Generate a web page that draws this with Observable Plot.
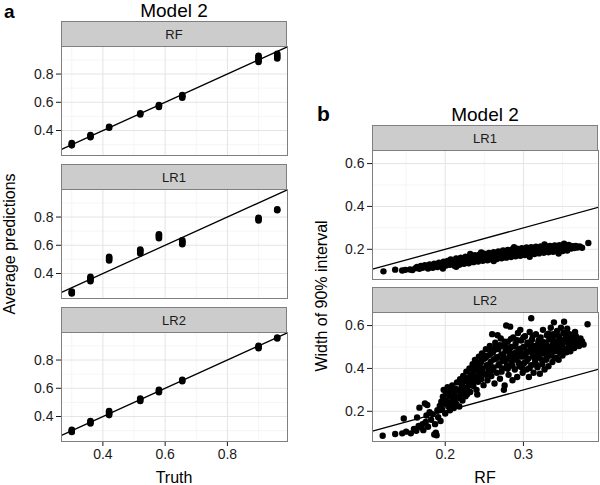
<!DOCTYPE html>
<html>
<head>
<meta charset="utf-8">
<script src="https://cdn.jsdelivr.net/npm/d3@7"></script>
<script src="https://cdn.jsdelivr.net/npm/@observablehq/plot@0.6"></script>
<style>
  html, body { margin: 0; padding: 0; background: #ffffff; }
  #chart { position: relative; width: 600px; height: 485px; overflow: hidden; background: #ffffff; }
  #chart svg { position: absolute; }
</style>
</head>
<body>
<div id="chart"></div>
<script>
// ---------- DATA ----------
// Panel a: true probabilities (x) and replicate average predictions (y) per model
const truth = [0.30, 0.36, 0.42, 0.52, 0.58, 0.655, 0.90, 0.96];
const rfAvg = [[0.295,0.303,0.312],[0.352,0.360,0.368],[0.420,0.426],[0.513,0.522],[0.566,0.575,0.581],[0.632,0.642,0.652],[0.886,0.897,0.908,0.920,0.930],[0.910,0.920,0.932,0.944]];
const lr1Avg = [[0.258,0.265,0.273],[0.346,0.356,0.366,0.376],[0.492,0.502,0.512,0.518],[0.542,0.553,0.564,0.570],[0.650,0.660,0.670,0.678],[0.608,0.617,0.627,0.635],[0.776,0.786,0.794],[0.848,0.854]];
const lr2Avg = [[0.290,0.298,0.306],[0.350,0.360,0.368],[0.410,0.420,0.430,0.438],[0.510,0.520,0.528],[0.572,0.580,0.590],[0.650,0.660],[0.884,0.893,0.900],[0.952,0.960]];
const panelAFacets = ["RF", "LR1", "LR2"];

// Panel b: width of 90% interval, RF (x) vs LR model (y)
const lr1Width = [[0.121,0.097],[0.136,0.105],[0.145,0.101],[0.149,0.104],[0.155,0.106],[0.158,0.103],
[0.162,0.112],[0.164,0.118],[0.167,0.109],[0.169,0.122],[0.171,0.114],[0.174,0.126],[0.176,0.117],[0.178,0.110],[0.180,0.129],[0.182,0.121],[0.184,0.114],[0.186,0.133],[0.188,0.124],[0.190,0.117],[0.192,0.137],[0.194,0.128],[0.196,0.120],[0.198,0.142],[0.199,0.132],[0.201,0.124],[0.203,0.146],[0.204,0.137],[0.206,0.128],[0.207,0.153],[0.209,0.142],[0.211,0.133],[0.212,0.123],[0.214,0.157],[0.215,0.146],[0.217,0.138],[0.218,0.128],[0.220,0.161],[0.221,0.151],[0.223,0.142],[0.224,0.132],[0.226,0.165],[0.227,0.155],[0.229,0.146],[0.230,0.135],[0.232,0.168],[0.233,0.158],[0.235,0.149],[0.236,0.140],[0.238,0.172],[0.239,0.161],[0.241,0.152],[0.242,0.143],[0.244,0.176],[0.245,0.164],[0.247,0.155],[0.248,0.146],[0.250,0.179],[0.251,0.168],[0.253,0.158],[0.254,0.149],[0.256,0.183],[0.257,0.171],[0.259,0.162],[0.260,0.152],[0.262,0.186],[0.263,0.175],[0.265,0.165],[0.266,0.155],[0.268,0.190],[0.269,0.178],[0.271,0.168],[0.272,0.158],[0.274,0.194],[0.275,0.181],[0.277,0.171],[0.278,0.161],[0.280,0.197],[0.281,0.185],[0.283,0.174],[0.284,0.164],[0.286,0.200],[0.287,0.188],[0.289,0.177],[0.290,0.167],[0.292,0.203],[0.293,0.191],[0.295,0.180],[0.296,0.170],[0.298,0.205],[0.299,0.194],[0.301,0.183],[0.302,0.173],[0.304,0.208],[0.305,0.196],[0.307,0.186],[0.308,0.176],[0.310,0.210],[0.311,0.199],[0.313,0.188],[0.314,0.178],[0.316,0.212],[0.317,0.201],[0.319,0.191],[0.320,0.181],[0.322,0.213],[0.323,0.203],[0.325,0.193],[0.326,0.184],[0.328,0.215],[0.329,0.205],[0.331,0.195],[0.332,0.186],[0.334,0.216],[0.335,0.207],[0.337,0.197],[0.338,0.188],[0.340,0.218],[0.341,0.208],[0.343,0.199],[0.344,0.190],[0.346,0.219],[0.347,0.210],[0.349,0.201],[0.350,0.192],[0.352,0.219],[0.353,0.211],[0.355,0.203],[0.356,0.194],[0.358,0.220],[0.359,0.212],[0.361,0.204],[0.363,0.214],[0.365,0.206],[0.367,0.216],[0.369,0.208],[0.372,0.213],[0.375,0.207],[0.383,0.229],
[0.232,0.178],[0.262,0.145],[0.288,0.210],[0.308,0.165],[0.327,0.222],[0.345,0.180],[0.352,0.226],[0.246,0.185],[0.214,0.118],[0.197,0.110]];

const lr2Width = [[0.120,0.086],[0.136,0.094],[0.145,0.097],[0.147,0.166],[0.150,0.105],[0.156,0.097],[0.160,0.118],[0.163,0.109],[0.164,0.171],[0.166,0.132],[0.167,0.217],[0.169,0.125],[0.171,0.140],[0.172,0.112],[0.174,0.236],[0.175,0.150],[0.176,0.180],[0.177,0.229],[0.178,0.128],[0.180,0.196],[0.182,0.160],[0.184,0.186],[0.186,0.092],[0.187,0.140],[0.188,0.100],[0.189,0.088],[0.190,0.205],[0.191,0.172],[0.193,0.225],[0.194,0.155],[0.195,0.245],
[0.196,0.210],[0.197,0.268],[0.198,0.300],[0.199,0.235],[0.200,0.190],[0.201,0.285],[0.202,0.250],[0.203,0.312],[0.204,0.222],[0.205,0.272],[0.206,0.205],[0.207,0.295],[0.208,0.240],[0.209,0.320],[0.210,0.260],[0.211,0.215],[0.212,0.282],[0.213,0.305],[0.214,0.235],[0.215,0.335],[0.216,0.265],[0.217,0.300],[0.218,0.222],[0.219,0.350],[0.220,0.280],
[0.221,0.318],[0.222,0.250],[0.223,0.365],[0.224,0.295],[0.225,0.340],[0.226,0.270],[0.227,0.385],[0.228,0.310],[0.228,0.280],[0.229,0.355],[0.230,0.330],[0.231,0.400],[0.232,0.290],[0.233,0.372],[0.234,0.345],[0.235,0.420],[0.236,0.318],[0.237,0.390],[0.238,0.440],[0.239,0.362],[0.240,0.300],[0.241,0.278],[0.241,0.410],[0.242,0.338],[0.243,0.455],[0.244,0.380],[0.245,0.425],[0.246,0.350],[0.247,0.470],[0.248,0.400],[0.249,0.322],[0.250,0.445],[0.251,0.372],[0.252,0.490],[0.253,0.415],[0.254,0.345],[0.255,0.460],[0.256,0.392],
[0.257,0.505],[0.258,0.430],[0.259,0.365],[0.260,0.560],[0.261,0.475],[0.262,0.405],[0.263,0.330],[0.264,0.520],[0.265,0.445],[0.266,0.380],[0.267,0.555],[0.268,0.490],[0.269,0.420],[0.270,0.352],[0.271,0.540],[0.272,0.465],[0.273,0.400],[0.274,0.505],[0.275,0.300],[0.275,0.435],[0.276,0.320],[0.277,0.480],[0.278,0.600],[0.279,0.415],[0.280,0.525],[0.281,0.370],[0.282,0.455],[0.283,0.595],[0.284,0.500],[0.285,0.430],[0.286,0.345],[0.287,0.545],[0.288,0.470],[0.289,0.395],[0.290,0.515],[0.291,0.440],[0.292,0.360],[0.293,0.565],[0.294,0.485],[0.295,0.410],[0.296,0.580],[0.297,0.530],[0.298,0.455],[0.299,0.380],[0.300,0.500],
[0.301,0.425],[0.302,0.550],[0.303,0.470],[0.304,0.395],[0.305,0.520],[0.306,0.445],[0.307,0.360],[0.308,0.570],[0.309,0.490],[0.310,0.634],[0.310,0.415],[0.311,0.535],[0.312,0.460],[0.313,0.380],[0.314,0.505],[0.315,0.430],[0.316,0.560],[0.317,0.480],[0.318,0.405],[0.319,0.525],[0.320,0.450],[0.321,0.375],[0.322,0.545],[0.323,0.495],[0.324,0.420],[0.325,0.580],[0.326,0.470],[0.327,0.395],[0.328,0.515],[0.329,0.440],[0.330,0.555],[0.331,0.485],[0.332,0.410],[0.333,0.535],[0.334,0.460],[0.335,0.590],[0.336,0.505],[0.337,0.430],[0.338,0.560],[0.339,0.615],[0.340,0.480],
[0.341,0.525],[0.342,0.450],[0.343,0.575],[0.344,0.500],[0.345,0.440],[0.346,0.545],[0.347,0.470],[0.348,0.590],[0.349,0.515],[0.350,0.460],[0.351,0.565],[0.352,0.618],[0.353,0.490],[0.354,0.540],[0.355,0.475],[0.356,0.585],[0.357,0.525],[0.358,0.500],[0.359,0.560],[0.360,0.480],[0.362,0.545],[0.364,0.510],[0.365,0.495],[0.366,0.570],[0.368,0.530],[0.369,0.518],[0.371,0.505],[0.373,0.540],[0.375,0.526],[0.377,0.512],[0.382,0.606],
[0.232,0.352],[0.236,0.372],[0.239,0.395],[0.243,0.408],[0.246,0.432],[0.249,0.378],[0.252,0.452],[0.255,0.405],[0.258,0.468],[0.261,0.392],[0.263,0.487],[0.266,0.452],[0.268,0.415],[0.270,0.508],[0.272,0.385],[0.274,0.462],[0.276,0.525],[0.278,0.442],[0.280,0.398],[0.282,0.488],[0.284,0.538],[0.286,0.412],[0.288,0.445],[0.290,0.472],[0.292,0.532],[0.294,0.425],[0.296,0.492],[0.298,0.405],[0.300,0.545],[0.302,0.462],[0.304,0.435],[0.306,0.512],[0.308,0.402],[0.310,0.478],[0.312,0.552],[0.314,0.448],[0.316,0.418],[0.318,0.502],[0.320,0.535],[0.322,0.468],[0.324,0.438],[0.326,0.522],[0.328,0.488],[0.330,0.452],[0.332,0.562],[0.334,0.498],[0.336,0.472],[0.338,0.528],[0.340,0.448],[0.342,0.512],[0.344,0.552],[0.346,0.488],[0.348,0.532],[0.350,0.505],[0.352,0.478],[0.354,0.562],[0.356,0.522],[0.358,0.548],[0.361,0.508],[0.363,0.532],[0.367,0.552],[0.370,0.528],
[0.205,0.238],[0.208,0.275],[0.212,0.252],[0.215,0.298],[0.218,0.262],[0.222,0.332],[0.225,0.305],[0.228,0.348],[0.231,0.322],[0.234,0.398],[0.237,0.342],[0.240,0.428],[0.243,0.362],[0.246,0.398],[0.249,0.462],[0.253,0.372],[0.257,0.418],[0.259,0.482],[0.262,0.442],[0.265,0.505],[0.269,0.455],[0.273,0.435],[0.277,0.505],[0.281,0.482],[0.285,0.462],[0.289,0.502],[0.293,0.455],[0.297,0.472],[0.301,0.498],[0.305,0.478],[0.309,0.522],[0.313,0.498],[0.317,0.455],[0.321,0.508],[0.325,0.475],[0.329,0.512],[0.333,0.478],[0.337,0.545],[0.341,0.485]];
const panelBFacets = ["LR1", "LR2"];

// axis ticks
const aTicks = [0.4, 0.6, 0.8];
const aMinor = [0.3, 0.5, 0.7, 0.9];
const bXTicks = [0.2, 0.3];
const bXMinor = [0.15, 0.25, 0.35];
const bYTicks = [0.2, 0.4, 0.6];
const bYMinor = [0.1, 0.3, 0.5];

// ---------- BUILD ----------
const FONT = "'Liberation Sans', Arial, Helvetica, sans-serif";
const root = document.getElementById("chart");

function rowsFrom(avg) {
  const out = [];
  truth.forEach((t, i) => avg[i].forEach(v => out.push({x: t, y: v})));
  return out;
}
function rowsPairs(p) { return p.map(([x, y]) => ({x, y})); }

function facet(o) {
  const ml = 45, mr = 3, mt = 2, mb = o.showX ? 30 : 3;
  const lo = Math.max(o.xDomain[0], o.yDomain[0]);
  const hi = Math.min(o.xDomain[1], o.yDomain[1]);
  const svg = Plot.plot({
    width: ml + o.w + mr, height: mt + o.h + mb,
    marginLeft: ml, marginRight: mr, marginTop: mt, marginBottom: mb,
    style: {background: "transparent", fontFamily: FONT, fontSize: "14px", color: "#1a1a1a", overflow: "visible"},
    x: {domain: o.xDomain, ticks: o.xMajor, tickFormat: d => d.toFixed(1), tickSize: 5, tickPadding: 3, label: null, axis: o.showX ? "bottom" : null},
    y: {domain: o.yDomain, ticks: o.yMajor, tickFormat: d => d.toFixed(1), tickSize: 5, tickPadding: 3, label: null},
    marks: [
      Plot.ruleX(o.xMinor, {stroke: "#f3f3f3", strokeWidth: 0.8}),
      Plot.ruleY(o.yMinor, {stroke: "#f3f3f3", strokeWidth: 0.8}),
      Plot.ruleX(o.xMajor, {stroke: "#e4e4e4", strokeWidth: 1}),
      Plot.ruleY(o.yMajor, {stroke: "#e4e4e4", strokeWidth: 1}),
      Plot.line([lo, hi], {x: d => d, y: d => d, stroke: "#000", strokeWidth: 1.3, clip: true}),
      Plot.dot(o.rows, {x: "x", y: "y", r: o.r, fill: "#000", stroke: "none"}),
      Plot.frame({stroke: "#7f7f7f", strokeWidth: 1})
    ]
  });
  svg.style.left = (o.left - ml) + "px";
  svg.style.top = (o.top - mt) + "px";
  root.appendChild(svg);
}

// background svg for strips and texts
const bg = d3.select(root).append("svg")
  .attr("width", 600).attr("height", 485)
  .style("left", "0px").style("top", "0px")
  .attr("font-family", FONT);

function strip(x, y, w, h, label) {
  bg.append("rect").attr("x", x + 0.5).attr("y", y + 0.5).attr("width", w - 1).attr("height", h)
    .attr("fill", "#cccccc").attr("stroke", "#7f7f7f").attr("stroke-width", 1);
  bg.append("text").attr("x", x + w / 2).attr("y", y + h / 2 + 5)
    .attr("text-anchor", "middle").attr("font-size", 13).attr("fill", "#1a1a1a").text(label);
}
function txt(x, y, s, size, opts = {}) {
  const t = bg.append("text").attr("x", x).attr("y", y).attr("font-size", size)
    .attr("text-anchor", opts.anchor || "middle").attr("fill", opts.fill || "#000").text(s);
  if (opts.bold) t.attr("font-weight", "bold");
  if (opts.rotate) t.attr("transform", `rotate(-90 ${x} ${y})`);
}

// Panel a
const aLeft = 61, aW = 226, aH = 109, aTops = [46, 189, 332];
const aX = [0.267, 0.993], aY = [0.223, 0.995];
const aData = [rfAvg, lr1Avg, lr2Avg];
panelAFacets.forEach((name, i) => {
  strip(aLeft, aTops[i] - 25, aW, 25, name);
  facet({rows: rowsFrom(aData[i]), xDomain: aX, yDomain: aY, xMajor: aTicks, xMinor: aMinor,
    yMajor: aTicks, yMinor: aMinor, r: 3.3, left: aLeft, top: aTops[i], w: aW, h: aH, showX: i === 2});
});
txt(4, 18, "a", 19, {anchor: "start", bold: true});
txt(174, 17, "Model 2", 19);
txt(174, 483, "Truth", 16);
txt(15, 244, "Average predictions", 16, {rotate: true});

// Panel b
const bLeft = 372, bW = 226, bH = 129, bTops = [150, 312];
const bX = [0.107, 0.396], bY = [0.059, 0.661];
const bData = [lr1Width, lr2Width];
panelBFacets.forEach((name, i) => {
  strip(bLeft, bTops[i] - 25, bW, 25, name);
  facet({rows: rowsPairs(bData[i]), xDomain: bX, yDomain: bY, xMajor: bXTicks, xMinor: bXMinor,
    yMajor: bYTicks, yMinor: bYMinor, r: 3.2, left: bLeft, top: bTops[i], w: bW, h: bH, showX: i === 1});
});
txt(317, 121, "b", 21, {anchor: "start", bold: true});
txt(485, 121, "Model 2", 19);
txt(485, 483, "RF", 16);
txt(327, 296, "Width of 90% interval", 16, {rotate: true});
</script>
</body>
</html>
